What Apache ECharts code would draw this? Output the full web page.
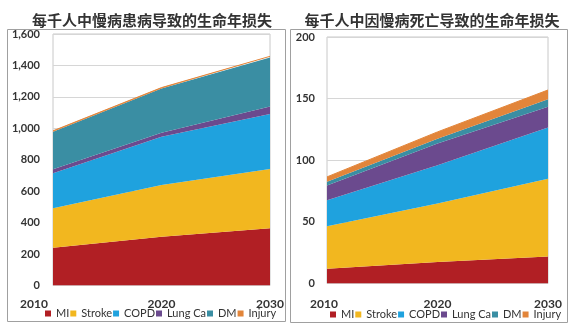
<!DOCTYPE html>
<html><head><meta charset="utf-8">
<script src="https://cdn.jsdelivr.net/npm/echarts@6/dist/echarts.min.js"></script>
<style>html,body{margin:0;padding:0;background:#fff}#c{width:570px;height:330px}</style>
</head><body><div id="c"></div>
<script>
const years = ['2010', '2020', '2030'];
const seriesNames = ['MI', 'Stroke', 'COPD', 'Lung Ca', 'DM', 'Injury'];
const colors = ['#B11F24', '#F2B71F', '#1FA2DE', '#6B4A8E', '#3A8EA3', '#E2853A'];

// Left: years of life lost per 1000 due to chronic disease morbidity
const leftMI = [240, 310, 364];
const leftStroke = [251, 329, 377];
const leftCOPD = [223, 307, 350];
const leftLungCa = [25, 26, 47];
const leftDM = [239, 282, 313];
const leftInjury = [6, 5, 7];

// Right: years of life lost per 1000 due to chronic disease death
const rightMI = [12, 17.5, 22];
const rightStroke = [34.5, 47.5, 63];
const rightCOPD = [21, 31, 41.5];
const rightLungCa = [12, 17.5, 17];
const rightDM = [3, 4, 6];
const rightInjury = [4, 5.5, 7.5];

const leftTitle = '每千人中慢病患病导致的生命年损失';
const rightTitle = '每千人中因慢病死亡导致的生命年损失';

const leftData = [leftMI, leftStroke, leftCOPD, leftLungCa, leftDM, leftInjury];
const rightData = [rightMI, rightStroke, rightCOPD, rightLungCa, rightDM, rightInjury];

const FONT = 'Lato, "Noto Sans", sans-serif';
const chart = echarts.init(document.getElementById('c'), null, {renderer: 'canvas'});

function mkSeries(data, idx, stack) {
  return data.map((d, i) => ({
    name: seriesNames[i], type: 'line', stack: stack,
    xAxisIndex: idx, yAxisIndex: idx,
    data: d, symbol: 'none', smooth: false,
    lineStyle: {width: i === 5 ? 1 : 0, color: colors[i]},
    itemStyle: {color: colors[i]},
    areaStyle: {color: colors[i], opacity: 1},
    emphasis: {disabled: true}, animation: false
  }));
}

const legendBase = {
  data: seriesNames, icon: 'rect', itemWidth: 6, itemHeight: 6, itemGap: 1,
  textStyle: {fontSize: 11, color: '#333', fontFamily: FONT}, padding: 0
};

const axisFont = {color: '#333', fontSize: 12, fontWeight: 'bold', fontFamily: FONT};

chart.setOption({
  animation: false,
  title: [
    {text: leftTitle, left: 147, textAlign: 'center', top: 8,
     textStyle: {fontSize: 15, fontWeight: 600, color: '#333', fontFamily: '"Noto Sans CJK SC", sans-serif'}},
    {text: rightTitle, left: 427, textAlign: 'center', top: 8,
     textStyle: {fontSize: 15, fontWeight: 600, color: '#333', fontFamily: '"Noto Sans CJK SC", sans-serif'}}
  ],
  legend: [
    Object.assign({left: 45, top: 308}, legendBase),
    Object.assign({left: 330, top: 309}, legendBase)
  ],
  graphic: [
    {type: 'rect', shape: {x: 7.5, y: 29.5, width: 278, height: 292}, style: {fill: 'none', stroke: '#a0a0a0', lineWidth: 1}, z: -1},
    {type: 'rect', shape: {x: 290.5, y: 29.5, width: 277, height: 293}, style: {fill: 'none', stroke: '#a0a0a0', lineWidth: 1}, z: -1}
  ],
  grid: [
    {left: 53, right: 300, top: 34, bottom: 44.5, show: true, borderColor: '#c8c8c8', borderWidth: 1},
    {left: 327, right: 22, top: 37, bottom: 46.5, show: true, borderColor: '#c8c8c8', borderWidth: 1}
  ],
  xAxis: [0, 1].map(i => ({
    type: 'category', gridIndex: i, data: years, boundaryGap: false,
    axisLine: {show: false}, axisTick: {show: false}, splitLine: {show: false},
    axisLabel: Object.assign({
      interval: 0, margin: i === 0 ? 13 : 15,
      formatter: (v, k) => (k === 0 && i === 0) ? '{f|' + v + '}' : (k === 0 ? '{g|' + v + '}' : v),
      rich: {
        f: Object.assign({padding: [0, 38, 0, 0]}, axisFont),
        g: Object.assign({padding: [0, 6, 0, 0]}, axisFont)
      }
    }, axisFont)
  })),
  yAxis: [
    {type: 'value', gridIndex: 0, min: 0, max: 1600, interval: 200,
     axisLine: {show: false}, axisTick: {show: false},
     splitLine: {lineStyle: {color: '#d6d6d6', width: 1}},
     axisLabel: Object.assign({margin: 13, formatter: v => v.toLocaleString('en-US')}, axisFont, {fontSize: 11})},
    {type: 'value', gridIndex: 1, min: 0, max: 200, interval: 50,
     axisLine: {show: false}, axisTick: {show: false},
     splitLine: {lineStyle: {color: '#d6d6d6', width: 1}},
     axisLabel: Object.assign({margin: 12}, axisFont, {fontSize: 11})}
  ],
  series: mkSeries(leftData, 0, 'L').concat(mkSeries(rightData, 1, 'R'))
});
</script></body></html>
